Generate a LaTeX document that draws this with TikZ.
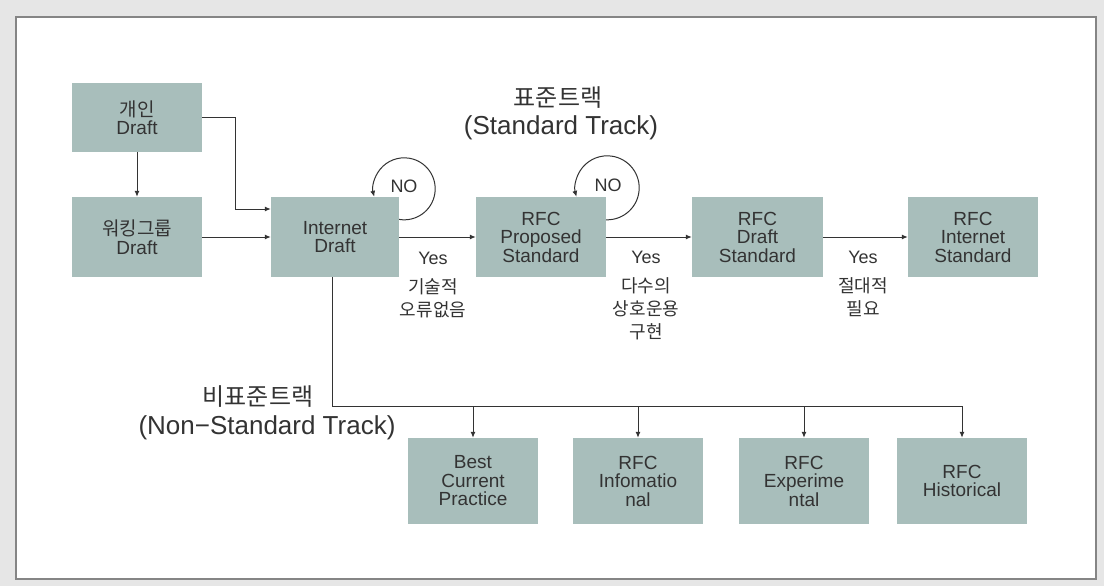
\documentclass[tikz,border=0pt]{standalone}
\usepackage{fontspec}
\setmainfont{Liberation Sans}
\newfontfamily\kr{Noto Sans CJK KR}
\usetikzlibrary{arrows.meta,calc}
\definecolor{boxfill}{HTML}{A8BEBB}
\definecolor{ink}{HTML}{333333}
\definecolor{framegray}{HTML}{858585}
\definecolor{pagegray}{HTML}{E6E6E6}
\newcommand\ko[1]{{\kr #1}}

\begin{document}
\begin{tikzpicture}[x=1pt,y=-1pt,
  stage/.style={fill=boxfill, minimum width=130pt, minimum height=80pt, inner sep=0pt,
    align=center, text=ink, font=\fontsize{19}{18.5}\selectfont},
  flow/.style={draw=ink, line width=1pt, -{Latex[length=6pt,width=5pt]}},
  wire/.style={draw=ink, line width=1pt},
  lbl/.style={text=ink, align=center, inner sep=0pt, font=\fontsize{18}{23}\selectfont},
  title/.style={text=ink, inner sep=0pt},
  ]
% page and frame
\fill[pagegray] (0,0) rectangle (1104,586);
\filldraw[fill=white, draw=framegray, line width=1.6pt] (16,17) rectangle (1096,579);
\useasboundingbox (0,0) rectangle (1104,586);

% track titles
\node[title, font=\fontsize{24}{28}\selectfont\kr] (stdk) at (558,98) {표준트랙};
\node[title, font=\fontsize{26}{30}\selectfont] (stdl) at (561,128) {(Standard Track)};
\node[title, font=\fontsize{24}{28}\selectfont\kr] (nsk) at (258,397) {비표준트랙};
\node[title, font=\fontsize{26}{30}\selectfont] (nsl) at (267,428) {(Non−Standard Track)};

% standard track stages
\node[stage, minimum height=69pt] (personal) at (137,117.5) {\ko{개인}\\Draft};
\node[stage] (wg) at (137,237) {\ko{워킹그룹}\\Draft};
\node[stage, minimum width=128pt] (id) at (335,237) {Internet\\Draft};
\node[stage] (ps) at (541,237) {RFC\\Proposed\\Standard};
\node[stage, minimum width=131pt] (ds) at (757.5,237) {RFC\\Draft\\Standard};
\node[stage] (is) at (973,237) {RFC\\Internet\\Standard};

% non-standard track stages
\node[stage, minimum height=86pt] (bcp) at (473,481) {Best\\Current\\Practice};
\node[stage, minimum height=86pt] (info) at (638,481) {RFC\\Infomatio\\nal};
\node[stage, minimum height=86pt] (exp) at (804,481) {RFC\\Experime\\ntal};
\node[stage, minimum height=86pt] (hist) at (962,481) {RFC\\Historical};

% feeds into the Internet Draft
\draw[flow] (personal) -- (wg);
\draw[flow] (personal.east) -- ++(33,0) |- ([yshift=28pt]id.west);
\draw[flow] (wg) -- (id);

% promotion along the standard track
\draw[flow] (id) -- (ps);
\draw[flow] (ps) -- (ds);
\draw[flow] (ds) -- (is);

% rejection loops
\draw[flow] ([yshift=-22.6pt]id.north east) arc[start angle=99.28, end angle=-194.96, radius=31];
\draw[flow] ([yshift=-23pt]ps.north east) arc[start angle=91.79, end angle=-196.36, radius=32];
\node[lbl] (no1) at (404,186) {NO};
\node[lbl] (no2) at (608,185) {NO};

% promotion conditions
\node[lbl, anchor=north] (c1) at (433,251.5) {Yes\\[6pt]\ko{기술적}\\\ko{오류없음}};
\node[lbl, anchor=north] (c2) at (646,250.5) {Yes\\[6pt]\ko{다수의}\\\ko{상호운용}\\\ko{구현}};
\node[lbl, anchor=north] (c3) at (863,250.5) {Yes\\[6pt]\ko{절대적}\\\ko{필요}};

% branch to the non-standard track
\coordinate (split) at (332,406);
\draw[wire] (id.south -| split) -- (split) -- (split -| hist.north);
\draw[flow] (split -| bcp.north) -- (bcp.north);
\draw[flow] (split -| info.north) -- (info.north);
\draw[flow] (split -| exp.north) -- (exp.north);
\draw[flow] (split -| hist.north) -- (hist.north);
\end{tikzpicture}
\end{document}
